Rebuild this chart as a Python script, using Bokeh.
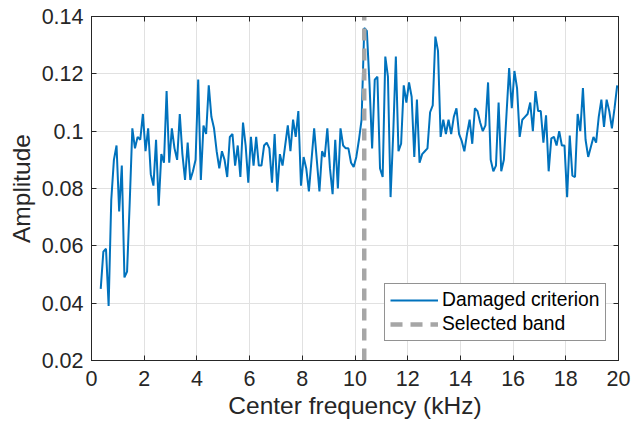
import numpy as np
from bokeh.plotting import figure
from bokeh.models import (FixedTicker, LinearAxis, Range1d, Legend, LegendItem,
                          CustomLabelingPolicy)
from bokeh.embed import file_html
from bokeh.resources import INLINE

# ---------------- data ----------------
freq_start = 0.35     # kHz
freq_step = 0.1       # kHz
amplitude = [
    0.045, 0.058, 0.059, 0.039, 0.076, 0.090, 0.095, 0.072, 0.088, 0.049,
    0.051, 0.075, 0.101, 0.094, 0.098, 0.097, 0.106, 0.093, 0.101, 0.085,
    0.081, 0.097, 0.074, 0.092, 0.089, 0.114, 0.089, 0.101, 0.094, 0.090,
    0.106, 0.092, 0.083, 0.096, 0.083, 0.086, 0.090, 0.118, 0.083, 0.102,
    0.099, 0.116, 0.105, 0.101, 0.093, 0.087, 0.093, 0.090, 0.084, 0.098,
    0.099, 0.088, 0.095, 0.084, 0.103, 0.095, 0.082, 0.098, 0.088, 0.098,
    0.088, 0.088, 0.095, 0.096, 0.094, 0.082, 0.099, 0.079, 0.092, 0.088,
    0.095, 0.102, 0.093, 0.104, 0.098, 0.107, 0.081, 0.091, 0.087, 0.079,
    0.090, 0.101, 0.090, 0.079, 0.093, 0.091, 0.101, 0.087, 0.078, 0.097,
    0.080, 0.101, 0.095, 0.094, 0.094, 0.089, 0.0875, 0.091, 0.097, 0.104,
    0.136, 0.135, 0.1165, 0.094, 0.118, 0.119, 0.087, 0.084, 0.126, 0.119,
    0.077, 0.099, 0.126, 0.093, 0.0956, 0.116, 0.110, 0.117, 0.112, 0.091,
    0.111, 0.089, 0.092, 0.093, 0.094, 0.1066, 0.109, 0.133, 0.128, 0.098,
    0.104, 0.099, 0.104, 0.099, 0.105, 0.108, 0.099, 0.0966, 0.093, 0.099,
    0.104, 0.0956, 0.108, 0.107, 0.103, 0.100, 0.102, 0.117, 0.090, 0.086,
    0.088, 0.110, 0.086, 0.090, 0.106, 0.122, 0.108, 0.121, 0.115, 0.098,
    0.104, 0.105, 0.106, 0.110, 0.100, 0.114, 0.107, 0.107, 0.096, 0.1055,
    0.086, 0.0975, 0.098, 0.095, 0.100, 0.095, 0.095, 0.077, 0.0985, 0.0845,
    0.084, 0.106, 0.100, 0.115, 0.097, 0.091, 0.0945, 0.098, 0.096, 0.105,
    0.111, 0.1015, 0.111, 0.107, 0.101, 0.108, 0.116,
]
freq = list(np.round(freq_start + freq_step * np.arange(len(amplitude)), 3))

selected_band = 10.35   # kHz

x_lim = [0, 20]
y_lim = [0.02, 0.14]
x_ticks = [0, 2, 4, 6, 8, 10, 12, 14, 16, 18, 20]
x_tick_labels = ["0", "2", "4", "6", "8", "10", "12", "14", "16", "18", "20"]
y_ticks = [0.02, 0.04, 0.06, 0.08, 0.1, 0.12, 0.14]
y_tick_labels = ["0.02", "0.04", "0.06", "0.08", "0.1", "0.12", "0.14"]

series_names = ["Damaged criterion", "Selected band"]
x_title = "Center frequency (kHz)"
y_title = "Amplitude"

# ---------------- style ----------------
FONT = "Liberation Sans"
AX_COLOR = "#262626"
GRID_COLOR = "#E1E1E1"
TICK_FS = "21.5px"
LABEL_FS = "24.5px"
LEGEND_FS = "19.3px"

p = figure(
    frame_width=527, frame_height=344,
    x_range=Range1d(*x_lim), y_range=Range1d(*y_lim),
    output_backend="svg", toolbar_location=None,
    min_border_left=91, min_border_top=16, min_border_right=14, min_border_bottom=68,
    background_fill_color="white", border_fill_color="white",
)
p.outline_line_color = AX_COLOR
p.outline_line_width = 1

xt = FixedTicker(ticks=x_ticks)
yt = FixedTicker(ticks=y_ticks)

for ax in p.xaxis:
    ax.ticker = xt
    ax.major_label_overrides = {t: l for t, l in zip(x_ticks, x_tick_labels)}
    ax.axis_label = x_title
for ax in p.yaxis:
    ax.ticker = yt
    ax.major_label_overrides = {t: l for t, l in zip(y_ticks, y_tick_labels)}
    ax.axis_label = y_title

for ax in list(p.xaxis) + list(p.yaxis):
    ax.axis_line_color = AX_COLOR
    ax.major_tick_line_color = AX_COLOR
    ax.major_tick_in = 5
    ax.major_tick_out = 0
    ax.minor_tick_line_color = None
    ax.major_label_text_font = FONT
    ax.major_label_text_font_size = TICK_FS
    ax.major_label_text_color = AX_COLOR
    ax.axis_label_text_font = FONT
    ax.axis_label_text_font_size = LABEL_FS
    ax.axis_label_text_font_style = "normal"
    ax.axis_label_text_color = AX_COLOR

p.xaxis.major_label_standoff = 10
p.xaxis.axis_label_standoff = 3
p.yaxis.major_label_standoff = 8
p.yaxis.axis_label_standoff = 4

# box ticks on top and right (no labels)
no_labels = CustomLabelingPolicy(code="""
    const n = indices.size
    for (let i = 0; i < n; i++) { indices.unset(i) }
    return indices
""")
top_ax = LinearAxis(ticker=xt, major_tick_in=5, major_tick_out=0,
                    minor_tick_line_color=None, major_label_policy=no_labels,
                    axis_line_color=AX_COLOR, major_tick_line_color=AX_COLOR,
                    major_label_standoff=0)
right_ax = LinearAxis(ticker=yt, major_tick_in=5, major_tick_out=0,
                      minor_tick_line_color=None, major_label_policy=no_labels,
                      axis_line_color=AX_COLOR, major_tick_line_color=AX_COLOR,
                      major_label_standoff=0)
p.add_layout(top_ax, "above")
p.add_layout(right_ax, "right")

p.xgrid.ticker = xt
p.ygrid.ticker = yt
p.xgrid.grid_line_color = GRID_COLOR
p.ygrid.grid_line_color = GRID_COLOR

line_r = p.line(freq, amplitude, line_color="#0072BD", line_width=2)
band_r = p.line([selected_band, selected_band], y_lim, line_color="#A6A6A6",
                line_width=4.5, line_dash="12 8")

legend = Legend(
    items=[LegendItem(label=series_names[0], renderers=[line_r]),
           LegendItem(label=series_names[1], renderers=[band_r])],
    location=(293, 19),
    label_text_font=FONT, label_text_font_size=LEGEND_FS, label_text_color="#000000",
    glyph_width=48, glyph_height=22, label_height=22, label_standoff=4,
    spacing=2, padding=5, margin=0,
    border_line_color=AX_COLOR, border_line_width=1,
    background_fill_color="white", background_fill_alpha=1.0,
)
p.add_layout(legend)

open("out.html", "w").write(file_html(p, INLINE))
